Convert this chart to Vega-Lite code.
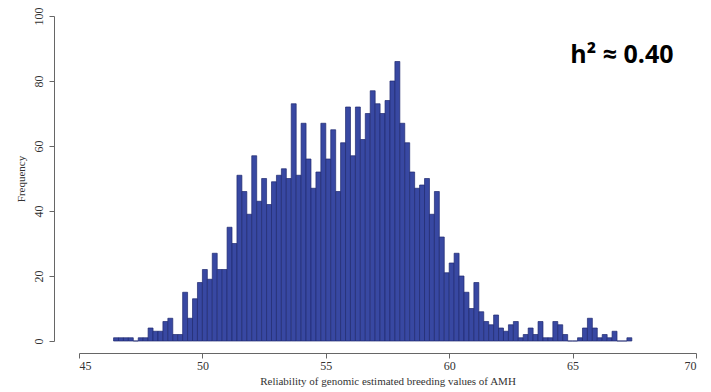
{
  "$schema": "https://vega.github.io/schema/vega-lite/v6.json",
  "width": 617,
  "height": 325,
  "autosize": {"type": "none"},
  "padding": {"left": 79, "top": 16, "right": 15, "bottom": 51},
  "background": "white",
  "config": {
    "view": {"stroke": null},
    "font": "Liberation Serif",
    "axis": {"grid": false, "domainColor": "#666", "tickColor": "#666", "labelColor": "#333", "titleColor": "#333", "labelFont": "Liberation Serif", "titleFont": "Liberation Serif", "titleFontWeight": "normal", "domainWidth": 1, "tickWidth": 1}
  },
  "datasets": {
    "bins": [
      {"start": 46.4, "end": 46.6, "count": 1}, {"start": 46.6, "end": 46.8, "count": 1}, {"start": 46.8, "end": 47.0, "count": 1}, {"start": 47.0, "end": 47.2, "count": 1},
      {"start": 47.2, "end": 47.4, "count": 0}, {"start": 47.4, "end": 47.6, "count": 1}, {"start": 47.6, "end": 47.8, "count": 1}, {"start": 47.8, "end": 48.0, "count": 4},
      {"start": 48.0, "end": 48.2, "count": 3}, {"start": 48.2, "end": 48.4, "count": 3}, {"start": 48.4, "end": 48.6, "count": 6}, {"start": 48.6, "end": 48.8, "count": 7},
      {"start": 48.8, "end": 49.0, "count": 2}, {"start": 49.0, "end": 49.2, "count": 2}, {"start": 49.2, "end": 49.4, "count": 15}, {"start": 49.4, "end": 49.6, "count": 7},
      {"start": 49.6, "end": 49.8, "count": 13}, {"start": 49.8, "end": 50.0, "count": 18}, {"start": 50.0, "end": 50.2, "count": 22}, {"start": 50.2, "end": 50.4, "count": 19},
      {"start": 50.4, "end": 50.6, "count": 27}, {"start": 50.6, "end": 50.8, "count": 22}, {"start": 50.8, "end": 51.0, "count": 22}, {"start": 51.0, "end": 51.2, "count": 35},
      {"start": 51.2, "end": 51.4, "count": 30}, {"start": 51.4, "end": 51.6, "count": 51}, {"start": 51.6, "end": 51.8, "count": 46}, {"start": 51.8, "end": 52.0, "count": 39},
      {"start": 52.0, "end": 52.2, "count": 57}, {"start": 52.2, "end": 52.4, "count": 43}, {"start": 52.4, "end": 52.6, "count": 50}, {"start": 52.6, "end": 52.8, "count": 42},
      {"start": 52.8, "end": 53.0, "count": 49}, {"start": 53.0, "end": 53.2, "count": 51}, {"start": 53.2, "end": 53.4, "count": 53}, {"start": 53.4, "end": 53.6, "count": 50},
      {"start": 53.6, "end": 53.8, "count": 73}, {"start": 53.8, "end": 54.0, "count": 51}, {"start": 54.0, "end": 54.2, "count": 67}, {"start": 54.2, "end": 54.4, "count": 56},
      {"start": 54.4, "end": 54.6, "count": 47}, {"start": 54.6, "end": 54.8, "count": 52}, {"start": 54.8, "end": 55.0, "count": 67}, {"start": 55.0, "end": 55.2, "count": 56},
      {"start": 55.2, "end": 55.4, "count": 65}, {"start": 55.4, "end": 55.6, "count": 46}, {"start": 55.6, "end": 55.8, "count": 61}, {"start": 55.8, "end": 56.0, "count": 72},
      {"start": 56.0, "end": 56.2, "count": 57}, {"start": 56.2, "end": 56.4, "count": 72}, {"start": 56.4, "end": 56.6, "count": 62}, {"start": 56.6, "end": 56.8, "count": 70},
      {"start": 56.8, "end": 57.0, "count": 77}, {"start": 57.0, "end": 57.2, "count": 73}, {"start": 57.2, "end": 57.4, "count": 70}, {"start": 57.4, "end": 57.6, "count": 74},
      {"start": 57.6, "end": 57.8, "count": 80}, {"start": 57.8, "end": 58.0, "count": 86}, {"start": 58.0, "end": 58.2, "count": 67}, {"start": 58.2, "end": 58.4, "count": 61},
      {"start": 58.4, "end": 58.6, "count": 52}, {"start": 58.6, "end": 58.8, "count": 47}, {"start": 58.8, "end": 59.0, "count": 48}, {"start": 59.0, "end": 59.2, "count": 50},
      {"start": 59.2, "end": 59.4, "count": 39}, {"start": 59.4, "end": 59.6, "count": 46}, {"start": 59.6, "end": 59.8, "count": 32}, {"start": 59.8, "end": 60.0, "count": 21},
      {"start": 60.0, "end": 60.2, "count": 24}, {"start": 60.2, "end": 60.4, "count": 27}, {"start": 60.4, "end": 60.6, "count": 20}, {"start": 60.6, "end": 60.8, "count": 15},
      {"start": 60.8, "end": 61.0, "count": 10}, {"start": 61.0, "end": 61.2, "count": 18}, {"start": 61.2, "end": 61.4, "count": 9}, {"start": 61.4, "end": 61.6, "count": 6},
      {"start": 61.6, "end": 61.8, "count": 5}, {"start": 61.8, "end": 62.0, "count": 8}, {"start": 62.0, "end": 62.2, "count": 4}, {"start": 62.2, "end": 62.4, "count": 3},
      {"start": 62.4, "end": 62.6, "count": 5}, {"start": 62.6, "end": 62.8, "count": 6}, {"start": 62.8, "end": 63.0, "count": 1}, {"start": 63.0, "end": 63.2, "count": 2},
      {"start": 63.2, "end": 63.4, "count": 4}, {"start": 63.4, "end": 63.6, "count": 2}, {"start": 63.6, "end": 63.8, "count": 6}, {"start": 63.8, "end": 64.0, "count": 1},
      {"start": 64.0, "end": 64.2, "count": 1}, {"start": 64.2, "end": 64.4, "count": 6}, {"start": 64.4, "end": 64.6, "count": 5}, {"start": 64.6, "end": 64.8, "count": 2},
      {"start": 64.8, "end": 65.0, "count": 0}, {"start": 65.0, "end": 65.2, "count": 0}, {"start": 65.2, "end": 65.4, "count": 1}, {"start": 65.4, "end": 65.6, "count": 4},
      {"start": 65.6, "end": 65.8, "count": 7}, {"start": 65.8, "end": 66.0, "count": 4}, {"start": 66.0, "end": 66.2, "count": 1}, {"start": 66.2, "end": 66.4, "count": 2},
      {"start": 66.4, "end": 66.6, "count": 1}, {"start": 66.6, "end": 66.8, "count": 3}, {"start": 66.8, "end": 67.0, "count": 0}, {"start": 67.0, "end": 67.2, "count": 0},
      {"start": 67.2, "end": 67.4, "count": 1}
    ],
    "note": [{"x": 67.0, "y": 88, "label": "h² ≈ 0.40"}]
  },
  "layer": [
    {
      "data": {"name": "bins"},
      "mark": {"type": "rect", "fill": "#3848a2", "stroke": "#1f2a70", "strokeWidth": 0.7},
      "encoding": {
        "x": {
          "field": "start", "type": "quantitative",
          "scale": {"domain": [45, 70], "nice": false, "zero": false},
          "axis": {"values": [45, 50, 55, 60, 65, 70], "offset": 12, "tickSize": 5, "labelPadding": 2, "labelFontSize": 12, "title": "Reliability of genomic estimated breeding values of AMH", "titleFontSize": 11, "titlePadding": 4}
        },
        "x2": {"field": "end"},
        "y": {
          "field": "count", "type": "quantitative",
          "scale": {"domain": [0, 100], "nice": false},
          "axis": {"values": [0, 20, 40, 60, 80, 100], "offset": 25, "tickSize": 5, "labelAngle": -90, "labelAlign": "center", "labelBaseline": "bottom", "labelPadding": 4, "labelFontSize": 12, "title": "Frequency", "titleFontSize": 11, "titlePadding": 6}
        },
        "y2": {"datum": 0}
      }
    },
    {
      "data": {"name": "note"},
      "mark": {"type": "text", "font": "Open Sans", "fontWeight": "bold", "fontSize": 25, "color": "#000", "align": "center", "baseline": "middle"},
      "encoding": {
        "x": {"field": "x", "type": "quantitative"},
        "y": {"field": "y", "type": "quantitative"},
        "text": {"field": "label"}
      }
    }
  ]
}
